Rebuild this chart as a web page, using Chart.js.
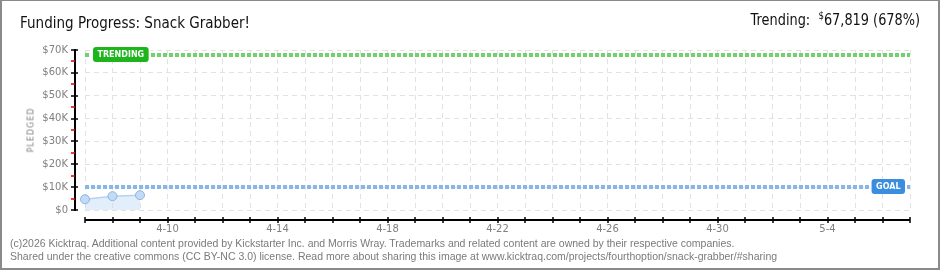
<!DOCTYPE html>
<html>
<head>
<meta charset="utf-8">
<script src="https://cdn.jsdelivr.net/npm/chart.js@4.4.1/dist/chart.umd.min.js"></script>
<style>
  html, body { margin: 0; padding: 0; background: #fff; }
  #wrap { position: relative; width: 940px; height: 270px; overflow: hidden; }
  #frame { position: absolute; left: 0; top: 0; width: 940px; height: 270px; box-sizing: border-box;
           border: 2px solid #8a8a8a; border-top-width: 1px; pointer-events: none; }
  canvas { position: absolute; left: 0; top: 0; }
  .t { position: absolute; white-space: nowrap; font-family: "DejaVu Sans", sans-serif; }
  #title { left: 20px; top: 14px; font-size: 15px; color: #111; transform: scaleX(0.9); transform-origin: left top; }
  #trend { right: 20px; top: 11px; font-size: 15px; color: #111; transform: scaleX(0.86); transform-origin: right top; }
  #trend sup { font-size: 10px; vertical-align: top; position: relative; top: -1px; }
  #ylab { left: 31px; top: 130px; font-size: 8px; color: #808080; letter-spacing: 1px;
          transform: translate(-50%, -50%) rotate(-90deg); }
  .foot { left: 10px; font-size: 10.5px; color: #7a7a7a; font-family: "Liberation Sans", sans-serif; }
</style>
</head>
<body>
<div id="wrap">
  <canvas id="chart" width="940" height="270"></canvas>
  <div class="t" id="title">Funding Progress: Snack Grabber!</div>
  <div class="t" id="trend">Trending:&nbsp; <sup>$</sup>67,819 (678%)</div>
  <div class="t" id="ylab">PLEDGED</div>
  <div class="t foot" style="top:237px">(c)2026 Kicktraq. Additional content provided by Kickstarter Inc. and Morris Wray. Trademarks and related content are owned by their respective companies.</div>
  <div class="t foot" style="top:250px">Shared under the creative commons (CC BY-NC 3.0) license. Read more about sharing this image at www.kicktraq.com/projects/fourthoption/snack-grabber/#sharing</div>
  <div id="frame"></div>
</div>
<script>
// data
var days = ['4-7','4-8','4-9','4-10','4-11','4-12','4-13','4-14','4-15','4-16','4-17','4-18','4-19','4-20','4-21',
            '4-22','4-23','4-24','4-25','4-26','4-27','4-28','4-29','4-30','5-1','5-2','5-3','5-4','5-5','5-6','5-7'];
var pledged = [4700, 6050, 6500];
var goal = 10000;
var trending = 67819;
var yMax = 70000;
var yStep = 10000;

function money(v) {
  return v == 0 ? '$0' : '$' + (v / 1000) + 'K';
}

// axis lines sit apart from the plot, drawn by hand
var axesPlugin = {
  id: 'axes',
  afterDraw: function (chart) {
    var ctx = chart.ctx, a = chart.chartArea;
    var x = chart.scales.x, y = chart.scales.y;
    ctx.save();
    ctx.strokeStyle = '#000';

    var ax = a.left - 10;
    ctx.lineWidth = 2;
    ctx.beginPath();
    ctx.moveTo(ax, a.top - 1);
    ctx.lineTo(ax, a.bottom + 1);
    ctx.stroke();

    ctx.lineWidth = 1.5;
    for (var v = 0; v <= yMax; v += yStep) {
      var py = Math.round(y.getPixelForValue(v));
      ctx.beginPath();
      ctx.moveTo(ax - 4, py);
      ctx.lineTo(ax + 3, py);
      ctx.stroke();
    }
    ctx.strokeStyle = '#e00000';
    for (var v = yStep / 2; v < yMax; v += yStep) {
      var py = Math.round(y.getPixelForValue(v));
      ctx.beginPath();
      ctx.moveTo(ax - 4, py);
      ctx.lineTo(ax, py);
      ctx.stroke();
    }

    var ay = a.bottom + 10;
    ctx.strokeStyle = '#000';
    ctx.lineWidth = 2;
    ctx.beginPath();
    ctx.moveTo(a.left, ay);
    ctx.lineTo(a.right, ay);
    ctx.stroke();
    ctx.lineWidth = 1.5;
    for (var i = 0; i < days.length; i++) {
      var px = Math.round(x.getPixelForValue(i));
      ctx.beginPath();
      ctx.moveTo(px, ay - 3);
      ctx.lineTo(px, ay + 3);
      ctx.stroke();
    }
    ctx.restore();
  }
};

function markLine(chart, value, color, label, boxColor, atLeft) {
  var ctx = chart.ctx, a = chart.chartArea;
  var py = Math.round(chart.scales.y.getPixelForValue(value));
  ctx.save();
  ctx.strokeStyle = color;
  ctx.lineWidth = 4;
  ctx.setLineDash([4, 2]);
  ctx.beginPath();
  ctx.moveTo(a.left, py);
  ctx.lineTo(a.right, py);
  ctx.stroke();
  ctx.setLineDash([]);

  ctx.font = 'bold 8px "DejaVu Sans"';
  var w = ctx.measureText(label).width + 9;
  var h = 15;
  var bx = atLeft ? a.left + 8 : a.right - 5 - w;
  var by = py - 8;
  ctx.fillStyle = '#fff';
  ctx.fillRect(bx - 2, by, w + 4, h);
  ctx.fillStyle = boxColor;
  ctx.beginPath();
  ctx.roundRect(bx, by, w, h, 3);
  ctx.fill();
  ctx.fillStyle = '#fff';
  ctx.textBaseline = 'middle';
  ctx.textAlign = 'center';
  ctx.fillText(label, bx + w / 2, by + h / 2 + 0.5);
  ctx.restore();
}

var linesPlugin = {
  id: 'marks',
  afterDatasetsDraw: function (chart) {
    markLine(chart, goal, '#86b6ea', 'GOAL', '#3b8de0', false);
    markLine(chart, trending, '#6fd26f', 'TRENDING', '#1cb51c', true);
  }
};

var ctx = document.getElementById('chart').getContext('2d');
var myChart = new Chart(ctx, {
  type: 'line',
  data: {
    labels: days,
    datasets: [{
      label: 'Pledged',
      data: pledged,
      borderColor: '#b7d2f0',
      borderWidth: 1.5,
      backgroundColor: 'rgba(200,222,247,0.5)',
      fill: 'origin',
      tension: 0,
      pointRadius: 4.5,
      pointBackgroundColor: '#c2daf5',
      pointBorderColor: '#8db4df',
      pointBorderWidth: 1
    }]
  },
  options: {
    responsive: false,
    animation: false,
    devicePixelRatio: 1,
    layout: { padding: { top: 50, right: 30, left: 0, bottom: 0 } },
    plugins: { legend: { display: false }, tooltip: { enabled: false } },
    scales: {
      x: {
        offset: false,
        grid: { color: '#e2e2e2', drawTicks: false },
        border: { display: false, dash: [5, 4] },
        ticks: {
          autoSkip: false, maxRotation: 0, padding: 13,
          color: '#808080', font: { family: 'DejaVu Sans', size: 10 },
          callback: function (val, idx) { return idx % 4 == 3 ? days[idx] : ''; }
        },
        afterFit: function (scale) { scale.height = 60; }
      },
      y: {
        min: 0, max: yMax,
        grid: { color: '#e2e2e2', drawTicks: false },
        border: { display: false, dash: [5, 4] },
        ticks: {
          stepSize: yStep, padding: 17,
          color: '#808080', font: { family: 'DejaVu Sans', size: 10 },
          callback: function (v) { return money(v); }
        },
        afterFit: function (scale) { scale.width = 85; }
      }
    }
  },
  plugins: [axesPlugin, linesPlugin]
});
</script>
</body>
</html>
